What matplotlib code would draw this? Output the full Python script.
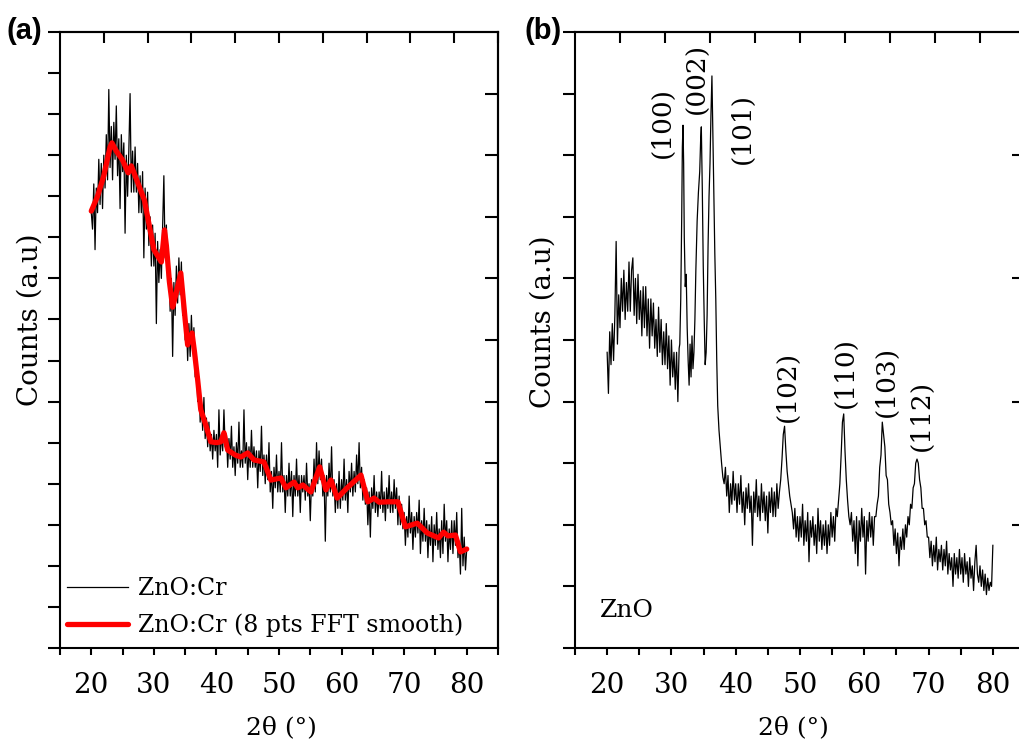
import numpy as np
import matplotlib
matplotlib.use("Agg")
import matplotlib.pyplot as plt

plt.rcParams['font.family'] = ['DejaVu Serif']

# ---------------- Panel (a): ZnO:Cr, raw scan (step 0.2 deg) ----------------
a_theta = np.round(np.arange(20.0, 80.001, 0.2), 1)
a_counts = [
    106, 102, 113, 97, 112, 106, 119, 108, 118, 107,   # 20.0-21.8
    120, 112, 125, 114, 136, 117, 127, 114, 128, 119,   # 22.0-23.8
    132, 115, 124, 107, 125, 116, 123, 101, 120, 110,   # 24.0-25.8
    121, 135, 111, 121, 111, 122, 111, 118, 106, 115,   # 26.0-27.8
    106, 116, 95, 112, 102, 111, 98, 105, 93, 103,      # 28.0-29.8
    93, 101, 79, 99, 89, 97, 90, 103, 115, 95,          # 30.0-31.8
    103, 89, 95, 82, 90, 71, 89, 81, 93, 84,            # 32.0-33.8
    95, 86, 94, 81, 87, 75, 80, 70, 79, 71,             # 34.0-35.8
    81, 72, 78, 66, 71, 60, 66, 55, 60, 53,             # 36.0-37.8
    61, 51, 56, 49, 55, 48, 52, 46, 53, 48,             # 38.0-39.8
    52, 44, 58, 47, 52, 48, 58, 49, 52, 44,             # 40.0-41.8
    51, 46, 54, 44, 49, 42, 50, 45, 55, 44,             # 42.0-43.8
    48, 44, 58, 45, 50, 41, 49, 44, 53, 44,             # 44.0-45.8
    49, 44, 48, 39, 48, 43, 54, 42, 47, 40,             # 46.0-47.8
    47, 41, 50, 38, 43, 34, 44, 39, 47, 38,             # 48.0-49.8
    43, 38, 50, 38, 42, 33, 42, 37, 45, 37,             # 50.0-51.8
    43, 32, 42, 37, 46, 37, 42, 33, 42, 38,             # 52.0-53.8
    42, 36, 45, 37, 40, 31, 41, 37, 46, 38,             # 54.0-55.8
    50, 40, 48, 41, 46, 37, 42, 26, 42, 37,             # 56.0-57.8
    45, 38, 49, 37, 41, 33, 40, 34, 43, 34,             # 58.0-59.8
    41, 36, 46, 36, 41, 33, 43, 38, 45, 37,             # 60.0-61.8
    43, 38, 47, 40, 50, 39, 44, 36, 41, 35,             # 62.0-63.8
    39, 30, 38, 27, 39, 34, 42, 33, 38, 32,             # 64.0-65.8
    38, 34, 43, 33, 38, 31, 39, 34, 42, 33,             # 66.0-67.8
    38, 33, 41, 34, 39, 30, 37, 30, 35, 29,             # 68.0-69.8
    33, 25, 32, 27, 37, 28, 33, 24, 32, 27,             # 70.0-71.8
    33, 28, 36, 23, 31, 26, 34, 26, 31, 22,             # 72.0-73.8
    30, 25, 32, 21, 30, 25, 33, 24, 29, 22,             # 74.0-75.8
    31, 23, 35, 26, 31, 21, 29, 24, 31, 23,             # 76.0-77.8
    31, 25, 33, 22, 26, 18, 34, 20, 27, 19,             # 78.0-79.8
    24,                                                 # 80.0
]

# 8 pts FFT smooth curve of panel (a)
a_smooth_theta = [20.0, 21.0, 22.0, 23.0, 23.3, 24.0, 25.0, 25.9, 26.4, 27.0,
                  28.0, 28.5, 29.0, 30.0, 31.2, 31.7, 32.0, 32.5, 33.0, 33.5,
                  34.3, 35.0, 35.4, 36.1, 36.5, 37.0, 37.5, 38.3, 39.1, 40.0,
                  40.7, 41.2, 41.8, 43.0, 43.9, 45.0, 46.0, 47.6, 48.7, 50.3,
                  51.1, 52.4, 53.0, 53.8, 55.1, 56.5, 57.5, 58.3, 59.3, 60.9,
                  63.1, 64.2, 65.2, 66.0, 67.4, 69.0, 70.2, 72.1, 73.7, 75.5,
                  76.3, 77.0, 78.2, 79.0, 80.0]
a_smooth_counts = [106.4, 110, 115, 122, 123, 121, 118.8, 115.7, 117.4, 115,
                   111, 109, 105, 97, 94, 101.8, 98, 89, 83, 86,
                   91.3, 80, 73.8, 76.7, 72, 65.3, 58, 54.3, 50.2, 50,
                   50.2, 52.4, 48.2, 47, 46.5, 47.5, 45.8, 45.3, 40.9, 41.4,
                   39, 40.4, 39, 39.7, 38, 44.1, 38.5, 40.9, 36.5, 39,
                   42.1, 35.6, 36.5, 35.5, 35.6, 35.6, 29.5, 30.4, 28, 26.8,
                   28.2, 27.3, 27.5, 23.4, 24.1]

# ---------------- Panel (b): ZnO ----------------
b_theta_lo = np.round(np.arange(20.0, 31.201, 0.2), 1)
b_counts_lo = [
    72, 62, 77, 69, 79, 70, 81, 99, 74, 86,     # 20.0-21.8
    78, 90, 82, 92, 80, 89, 82, 94, 82, 92,     # 22.0-23.8
    95, 81, 90, 79, 91, 80, 87, 76, 88, 78,     # 24.0-25.8
    88, 76, 85, 73, 85, 76, 84, 73, 80, 71,     # 26.0-27.8
    83, 72, 80, 69, 77, 69, 79, 68, 76, 64,     # 28.0-29.8
    75, 66, 72, 63, 72, 60, 73,                 # 30.0-31.2
]

b_theta_pk = [31.3, 31.45, 31.6, 31.7, 31.8, 31.9, 32.0, 32.15, 32.3, 32.45,
              32.6, 32.75, 32.9, 33.05, 33.2, 33.35, 33.5, 33.65, 33.8, 34.0,
              34.2, 34.4, 34.55, 34.65, 34.8, 34.95, 35.1, 35.25, 35.4, 35.55,
              35.7, 35.85, 36.0, 36.15, 36.3, 36.45, 36.6, 36.75, 36.9, 37.05,
              37.2, 37.4, 37.6, 37.8, 38.0, 38.2]
b_counts_pk = [74, 85, 105, 122, 127.3, 118, 100, 88, 91, 78,
               70, 64, 74, 66, 76, 68, 72, 80, 92, 104,
               111, 116, 124, 126.9, 112, 93, 80, 69, 72, 81,
               98, 110, 118, 130, 139.3, 125, 110, 96, 85, 70,
               59, 53, 49, 45, 41.6, 40]

b_theta_hi = np.round(np.arange(38.4, 80.001, 0.2), 1)
b_counts_hi = [
    44, 37, 42, 33, 40, 35, 43, 36,             # 38.4-39.8
    40, 33, 40, 35, 42, 33, 38, 30, 39, 34,     # 40.0-41.8
    40, 33, 37, 25, 38, 33, 41, 32, 37, 31,     # 42.0-43.8
    40, 33, 38, 31, 37, 28, 38, 33, 39, 32,     # 44.0-45.8
    38, 32, 40, 34, 38, 41, 46, 52, 54, 48,     # 46.0-47.8
    43, 40, 37, 35, 33, 29, 34, 27, 32, 26,     # 48.0-49.8
    32, 27, 35, 25, 31, 26, 33, 21, 31, 27,     # 50.0-51.8
    32, 25, 30, 23, 34, 26, 31, 24, 30, 25,     # 52.0-53.8
    31, 23, 30, 25, 33, 27, 32, 26, 34, 32,     # 54.0-55.8
    36, 40, 47, 55, 57, 48, 41, 36, 32, 30,     # 56.0-57.8
    33, 26, 31, 23, 32, 20, 31, 26, 34, 27,     # 58.0-59.8
    32, 18, 31, 26, 33, 27, 32, 25, 32, 32,     # 60.0-61.8
    35, 37, 44, 47, 55, 52, 49, 42, 41, 35,     # 62.0-63.8
    33, 30, 31, 25, 29, 23, 28, 20, 27, 24,     # 64.0-65.8
    29, 24, 30, 27, 32, 30, 35, 34, 39, 40,     # 66.0-67.8
    45, 46, 45, 41, 39, 34, 34, 30, 31, 27,     # 68.0-69.8
    27, 22, 26, 20, 25, 21, 27, 19, 24, 21,     # 70.0-71.8
    25, 19, 24, 20, 26, 18, 23, 19, 22, 15,     # 72.0-73.8
    23, 18, 22, 17, 24, 18, 22, 16, 23, 18,     # 74.0-75.8
    21, 15, 22, 17, 20, 14, 21, 25, 18, 16,     # 76.0-77.8
    20, 15, 19, 14, 18, 13, 17, 14, 16, 15,     # 78.0-79.8
    25,                                         # 80.0
]

peak_labels = ['(100)', '(002)', '(101)', '(102)', '(110)', '(103)', '(112)']
peak_label_theta = [28.6, 34.0, 41.0, 48.0, 57.0, 63.4, 68.8]
peak_label_counts = [128.0, 138.8, 126.4, 63.8, 67.2, 65.0, 56.7]

b_theta = np.concatenate([b_theta_lo, b_theta_pk, b_theta_hi])
b_counts = np.concatenate([b_counts_lo, b_counts_pk, b_counts_hi])

# ---------------- Figure ----------------
W, H = 1019, 746
fig = plt.figure(figsize=(W / 100, H / 100), dpi=100)
axa = fig.add_axes([60 / W, 98 / H, 438 / W, 616 / H])
axb = fig.add_axes([575 / W, 98 / H, 450 / W, 616 / H])

lw_spine = 1.5


def style(ax, left_step, right_ticks):
    ax.set_xlim(15, 85)
    ax.set_ylim(0, 150)
    for s in ax.spines.values():
        s.set_linewidth(lw_spine)
    ax.set_xticks(np.arange(20, 81, 10))
    ax.set_xticks(np.arange(15, 86, 10), minor=True)
    ax.tick_params(axis='x', which='both', direction='out', length=5,
                   width=1.5, labelsize=20, pad=12, top=False)
    ax.set_yticks(np.arange(0, 151, left_step))
    ax.tick_params(axis='y', which='both', direction='out', length=8.6,
                   width=1.5, labelleft=False, right=False)
    top = ax.secondary_xaxis('top')
    top.set_xticks(np.arange(22, 86, 7))
    top.tick_params(direction='in', length=8, width=1.5, labeltop=False)
    top.spines['top'].set_linewidth(lw_spine)
    right = ax.secondary_yaxis('right')
    right.set_yticks(right_ticks)
    right.tick_params(direction='in', length=9.4, width=1.5, labelright=False)
    right.spines['right'].set_linewidth(lw_spine)


style(axa, 10, np.arange(15, 136, 15))
style(axb, 15, [30, 60, 90, 120])

# panel (a)
axa.plot(a_theta, a_counts, color='black', lw=0.9, label='ZnO:Cr')
axa.plot(a_smooth_theta, a_smooth_counts, color='#ff0000', lw=3.8,
         solid_joinstyle='round', solid_capstyle='round',
         label='ZnO:Cr (8 pts FFT smooth)')
axa.legend(loc='lower left', bbox_to_anchor=(0.0, 0.0065), frameon=False,
           fontsize=17, handlelength=2.6, handletextpad=0.4,
           labelspacing=0.56, borderpad=0.3, borderaxespad=0.0)

# panel (b)
axb.plot(b_theta, b_counts, color='black', lw=0.9)
for lab, tx, ty in zip(peak_labels, peak_label_theta, peak_label_counts):
    axb.text(tx, ty, lab, rotation=90, ha='center', va='center', fontsize=19)
axb.text(18.9, 7.5, 'ZnO', ha='left', va='baseline', fontsize=18)

# axis labels
fig.text(30 / W, 1 - 320 / H, 'Counts (a.u)', rotation=90, ha='center',
         va='center', fontsize=20)
fig.text(543 / W, 1 - 322 / H, 'Counts (a.u)', rotation=90, ha='center',
         va='center', fontsize=20)
fig.text(281 / W, 1 - 728 / H, '2θ (°)', ha='center', va='center', fontsize=18)
fig.text(793 / W, 1 - 728 / H, '2θ (°)', ha='center', va='center', fontsize=18)

# panel letters
fig.text(7 / W, 1 - 31 / H, '(a)', ha='left', va='center', fontsize=21,
         fontweight='bold', family=['Liberation Sans', 'DejaVu Sans'])
fig.text(524 / W, 1 - 31 / H, '(b)', ha='left', va='center', fontsize=21,
         fontweight='bold', family=['Liberation Sans', 'DejaVu Sans'])

fig.savefig('out.png', dpi=100)
